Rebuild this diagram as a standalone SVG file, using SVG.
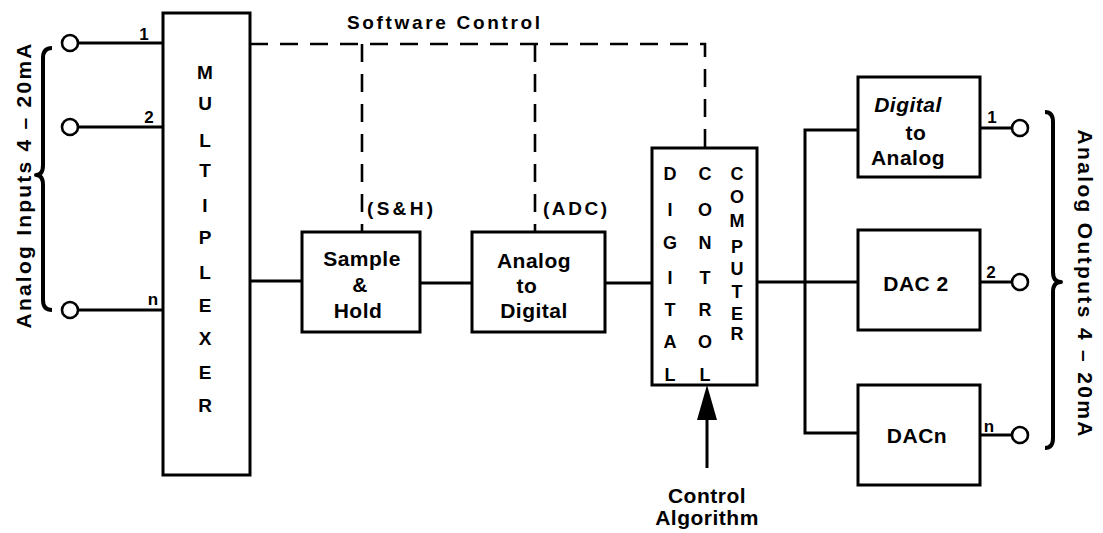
<svg xmlns="http://www.w3.org/2000/svg" width="1103" height="533" viewBox="0 0 1103 533">
<style>
.box{fill:#fff;stroke:#000;stroke-width:3}
.ln{fill:none;stroke:#000;stroke-width:3}
.dash{fill:none;stroke:#000;stroke-width:2.6;stroke-dasharray:18 12}
.brace{fill:none;stroke:#000;stroke-width:4;stroke-linejoin:round}
.term{fill:#fff;stroke:#000;stroke-width:2.6}
text{font-family:"Liberation Sans",Arial,sans-serif;font-weight:bold;fill:#000}
.lt{font-size:19px;text-anchor:middle}
.ct{font-size:18px;text-anchor:middle}
.bt{font-size:21px;text-anchor:middle;letter-spacing:0.5px}
.sm{font-size:17px;text-anchor:middle}
</style>
<rect width="1103" height="533" fill="#fff"/>

<g id="connectors">
  <path class="dash" d="M250 44 H705 V148"/>
  <path class="dash" d="M362 44 V232"/>
  <path class="dash" d="M535 44 V232"/>
  <line class="ln" x1="78" y1="43" x2="163" y2="43"/>
  <line class="ln" x1="78" y1="127" x2="163" y2="127"/>
  <line class="ln" x1="78" y1="310" x2="163" y2="310"/>
  <line class="ln" x1="250" y1="281" x2="302" y2="281"/>
  <line class="ln" x1="420" y1="283" x2="472" y2="283"/>
  <line class="ln" x1="605" y1="283" x2="652" y2="283"/>
  <line class="ln" x1="757" y1="282" x2="858" y2="282"/>
  <path class="ln" d="M858 130 H805 V433 H858"/>
  <line class="ln" x1="980" y1="128" x2="1012" y2="128"/>
  <line class="ln" x1="980" y1="282" x2="1012" y2="282"/>
  <line class="ln" x1="980" y1="435" x2="1012" y2="435"/>
  <line class="ln" x1="707" y1="468" x2="707" y2="415"/>
  <polygon points="707,385 697,420 717,420" fill="#000"/>
</g>

<g id="inputs">
  <circle class="term" cx="70" cy="43" r="8"/>
  <circle class="term" cx="70" cy="127" r="8"/>
  <circle class="term" cx="70" cy="310" r="8"/>
  <text class="sm" x="144" y="40">1</text>
  <text class="sm" x="149" y="123">2</text>
  <text class="sm" x="153" y="305">n</text>
  <path class="brace" d="M52 48 Q43 48 43 58 L43 165 Q43 175 36 175 Q43 175 43 185 L43 300 Q43 310 52 310"/>
  <text font-size="21" text-anchor="middle" textLength="285" transform="translate(31,186) rotate(-90)" x="0" y="0">Analog  Inputs  4 – 20mA</text>
</g>

<g id="multiplexer">
  <rect class="box" x="163" y="13" width="87" height="462"/>
  <text class="lt" x="205" y="79">M</text>
  <text class="lt" x="205" y="110">U</text>
  <text class="lt" x="205" y="147">L</text>
  <text class="lt" x="205" y="177">T</text>
  <text class="lt" x="205" y="212">I</text>
  <text class="lt" x="205" y="244">P</text>
  <text class="lt" x="205" y="279">L</text>
  <text class="lt" x="205" y="312">E</text>
  <text class="lt" x="205" y="345">X</text>
  <text class="lt" x="205" y="379">E</text>
  <text class="lt" x="205" y="412">R</text>
</g>

<g id="software-control">
  <text font-size="19" x="347" y="29" textLength="193">Software  Control</text>
</g>

<g id="sample-hold">
  <rect class="box" x="302" y="232" width="118" height="100"/>
  <text class="bt" x="362" y="266">Sample</text>
  <text class="bt" x="360" y="292">&amp;</text>
  <text class="bt" x="358" y="318">Hold</text>
  <text font-size="19" x="367" y="215" textLength="66">(S&amp;H)</text>
</g>

<g id="adc">
  <rect class="box" x="472" y="232" width="133" height="100"/>
  <text class="bt" x="534" y="268">Analog</text>
  <text class="bt" x="527" y="293">to</text>
  <text class="bt" x="534" y="318">Digital</text>
  <text font-size="19" x="543" y="215" textLength="64">(ADC)</text>
</g>

<g id="digital-control-computer">
  <rect class="box" x="652" y="148" width="105" height="237"/>
  <text class="ct" x="670" y="180">D</text>
  <text class="ct" x="670" y="216">I</text>
  <text class="ct" x="670" y="249">G</text>
  <text class="ct" x="670" y="284">I</text>
  <text class="ct" x="670" y="316">T</text>
  <text class="ct" x="670" y="348">A</text>
  <text class="ct" x="670" y="381">L</text>
  <text class="ct" x="705" y="180">C</text>
  <text class="ct" x="705" y="216">O</text>
  <text class="ct" x="705" y="249">N</text>
  <text class="ct" x="705" y="284">T</text>
  <text class="ct" x="705" y="316">R</text>
  <text class="ct" x="705" y="348">O</text>
  <text class="ct" x="705" y="381">L</text>
  <text class="ct" x="737" y="180">C</text>
  <text class="ct" x="737" y="203">O</text>
  <text class="ct" x="737" y="227">M</text>
  <text class="ct" x="737" y="253">P</text>
  <text class="ct" x="737" y="275">U</text>
  <text class="ct" x="737" y="298">T</text>
  <text class="ct" x="737" y="320">E</text>
  <text class="ct" x="737" y="340">R</text>
</g>

<g id="control-algorithm">
  <text class="bt" x="707" y="503">Control</text>
  <text class="bt" x="707" y="525">Algorithm</text>
</g>

<g id="dac1">
  <rect class="box" x="858" y="77" width="122" height="100"/>
  <text class="bt" x="908" y="112" font-style="italic">Digital</text>
  <text class="bt" x="916" y="140">to</text>
  <text class="bt" x="908" y="165">Analog</text>
</g>

<g id="dac2">
  <rect class="box" x="858" y="230" width="122" height="100"/>
  <text class="bt" x="916" y="291">DAC 2</text>
</g>

<g id="dacn">
  <rect class="box" x="858" y="385" width="122" height="100"/>
  <text class="bt" x="917" y="443">DACn</text>
</g>

<g id="outputs">
  <circle class="term" cx="1020" cy="128" r="8"/>
  <circle class="term" cx="1020" cy="282" r="8"/>
  <circle class="term" cx="1020" cy="435" r="8"/>
  <text class="sm" x="992" y="123">1</text>
  <text class="sm" x="991" y="278">2</text>
  <text class="sm" x="989" y="432">n</text>
  <path class="brace" d="M1045 112 Q1053 112 1053 122 L1053 272 Q1053 282 1061 282 Q1053 282 1053 292 L1053 438 Q1053 448 1045 448"/>
  <text font-size="21" text-anchor="middle" textLength="307" transform="translate(1078,283) rotate(90)" x="0" y="0">Analog  Outputs  4 – 20mA</text>
</g>
</svg>
